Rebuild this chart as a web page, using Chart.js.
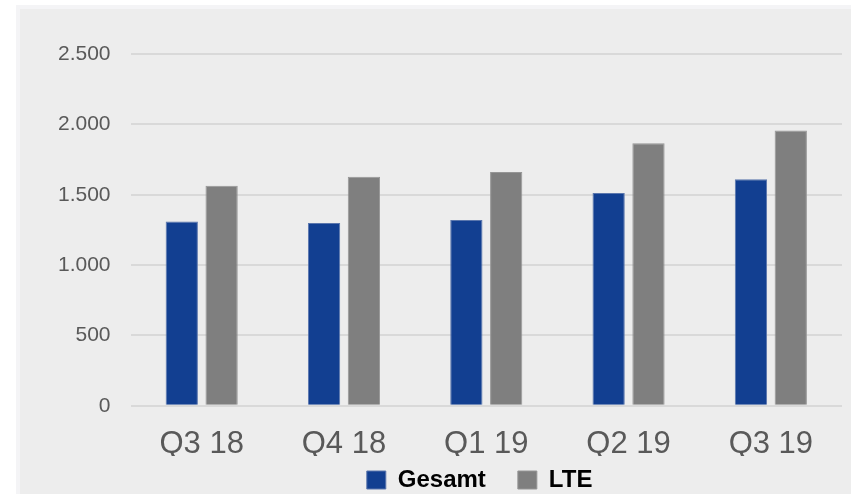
<!DOCTYPE html>
<html>
<head>
<meta charset="utf-8">
<script src="https://cdn.jsdelivr.net/npm/chart.js@4"></script>
<style>
  html, body { margin: 0; padding: 0; background: #ffffff; }
  #frame {
    position: absolute; left: 16px; top: 5px;
    width: 831px; height: 485px;
    border: 4px solid #f4f4f6; border-right: none; border-bottom: none;
    background: #ededed;
    overflow: hidden;
  }
  #chart { display: block; }
</style>
</head>
<body>
<div id="frame"><canvas id="chart" width="831" height="497"></canvas></div>
<script>
const quarters = ["Q3 18", "Q4 18", "Q1 19", "Q2 19", "Q3 19"];
const gesamt = [1310, 1299, 1321, 1513, 1610];
const lte = [1563, 1627, 1662, 1866, 1957];
const yTicks = [0, 500, 1000, 1500, 2000, 2500];

const fontFamily = "'Liberation Sans', Arial, sans-serif";

function deNumber(v) {
    return String(v).replace(/\B(?=(\d{3})+(?!\d))/g, ".");
}

const ctx = document.getElementById('chart');

const chart = new Chart(ctx, {
    type: 'bar',
    data: {
        labels: quarters,
        datasets: [{
            label: 'Gesamt',
            data: gesamt,
            backgroundColor: '#123f91',
            borderColor: '#5a76ad',
            borderWidth: 1,
            categoryPercentage: 0.56,
            barPercentage: 0.81
        }, {
            label: 'LTE',
            data: lte,
            backgroundColor: '#7f7f7f',
            borderColor: '#969696',
            borderWidth: 1,
            categoryPercentage: 0.56,
            barPercentage: 0.81
        }]
    },
    options: {
        responsive: false,
        animation: false,
        layout: { padding: { left: 18, right: 9, top: 45, bottom: 4 } },
        plugins: {
            tooltip: { enabled: false },
            legend: {
                position: 'bottom',
                fullSize: false,
                labels: {
                    boxWidth: 19,
                    boxHeight: 18,
                    padding: 12,
                    color: '#000000',
                    font: { family: fontFamily, size: 24, weight: 'bold' },
                    generateLabels: (c) => {
                        const items = Chart.defaults.plugins.legend.labels.generateLabels(c);
                        // spacing as in the original legend
                        items[0].text = items[0].text + '   ';
                        items[1].text = items[1].text + '  ';
                        return items;
                    }
                }
            }
        },
        scales: {
            x: {
                grid: { display: false },
                border: { display: false },
                afterFit: (axis) => { axis.height -= 19; },
                ticks: {
                    color: '#595959',
                    padding: 12,
                    font: { family: fontFamily, size: 31 }
                }
            },
            y: {
                min: 0,
                max: 2500,
                afterBuildTicks: (axis) => {
                    axis.ticks = yTicks.map(v => ({ value: v }));
                },
                grid: { color: '#d9d9d9', lineWidth: 2, drawTicks: false },
                border: { display: false },
                ticks: {
                    color: '#595959',
                    padding: 20,
                    font: { family: fontFamily, size: 21 },
                    callback: (v) => deNumber(v)
                }
            }
        }
    }
});
</script>
</body>
</html>
